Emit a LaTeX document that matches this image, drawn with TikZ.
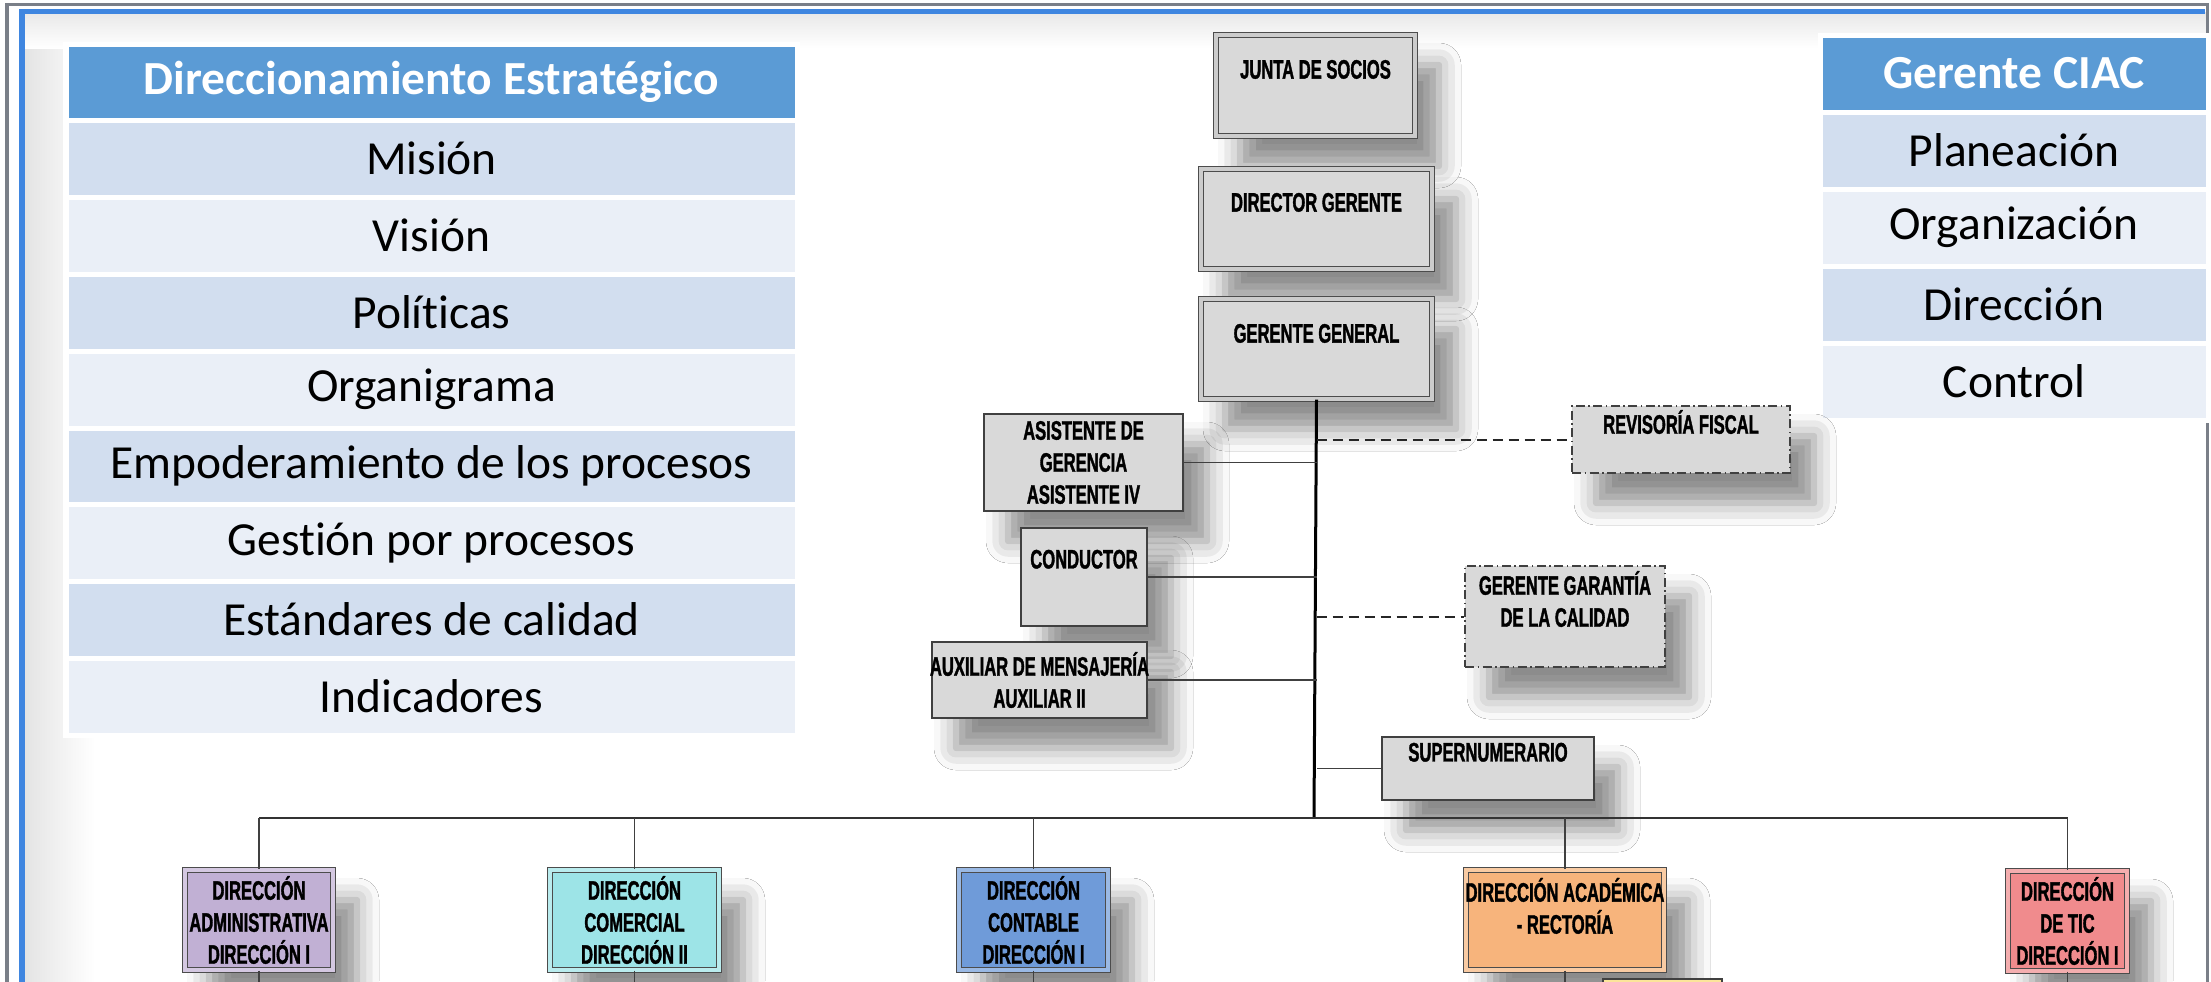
\documentclass[tikz,border=0pt]{standalone}
\usepackage{fontspec}
\setmainfont{Carlito}[Ligatures=NoCommon]
\newfontfamily\orgfont{Liberation Sans}[FakeStretch=0.62, BoldFeatures={FakeBold=1.3}]
\usetikzlibrary{fit,shadows.blur}
\definecolor{hdrblue}{HTML}{5B9BD5}
\definecolor{banddark}{HTML}{D2DEEF}
\definecolor{bandlight}{HTML}{EAEFF7}
\definecolor{boxgray}{HTML}{D9D9D9}
\definecolor{framegray}{HTML}{7A7F88}
\definecolor{frameblue}{HTML}{3F86E0}
\definecolor{cpurple}{HTML}{C1B0D4}
\definecolor{ccyan}{HTML}{9DE4E7}
\definecolor{cblue}{HTML}{6F9BD9}
\definecolor{corange}{HTML}{F7B47C}
\definecolor{cred}{HTML}{F08B8D}
\definecolor{cyellow}{HTML}{FCE59A}
\tikzset{
  orgbox/.style={draw=black!75, fill=boxgray, line width=0.015cm, inner sep=0pt,
    blur shadow={shadow xshift=0.24cm, shadow yshift=-0.3cm, shadow blur radius=0.22cm, shadow opacity=45}},
  topbox/.style={orgbox, draw=black!70, double=gray!40, double distance=0.035cm, line width=0.012cm},
  dashbox/.style={orgbox, dash pattern=on 0.09cm off 0.035cm on 0.015cm off 0.035cm, line width=0.02cm},
  deptbox/.style={orgbox, fill=#1, draw=black!70, double=#1!70!white, double distance=0.04cm, line width=0.012cm},
  orgtext/.style={font=\orgfont\bfseries\fontsize{7.6}{9.1}\selectfont, align=center, inner sep=0pt, text=black},
  tcell/.style={draw=white, line width=0.05cm, inner sep=0pt},
  thead/.style={tcell, fill=hdrblue},
  tdark/.style={tcell, fill=banddark},
  tlight/.style={tcell, fill=bandlight},
  ttext/.style={inner sep=0pt, font=\fontsize{13.5}{16}\selectfont, text=black},
  thtext/.style={inner sep=0pt, font=\bfseries\fontsize{13.5}{16}\selectfont, text=white},
  link/.style={draw=black!75, line width=0.015cm},
  dlink/.style={draw=black!85, line width=0.02cm, dash pattern=on 0.1cm off 0.06cm},
  mainlink/.style={draw=black, line width=0.03cm},
  buslink/.style={draw=black!80, line width=0.02cm}
}
\begin{document}
\begin{tikzpicture}[x=0.01cm, y=-0.01cm]
\path[use as bounding box] (0,0) rectangle (2211,981);
\clip (0,0) rectangle (2211,981);
\fill[white] (0,0) rectangle (2211,981);
% frame shading and border
\shade[left color=black!11, right color=white] (22,12) rectangle (95,981);
\shade[top color=black!9, bottom color=white] (22,12) rectangle (2207,48);
\draw[framegray, line width=0.03cm] (7,990) -- (7,4) -- (2207,4) -- (2207,990);
\draw[frameblue, line width=0.05cm] (22,990) -- (22,11) -- (2205,11);

% left table
\node[thead, fit={(66,44) (797,120)}] (lh) {};
\node[tdark,  fit={(66,120) (797,197)}] (l1) {};
\node[tlight, fit={(66,197) (797,274)}] (l2) {};
\node[tdark,  fit={(66,274) (797,351)}] (l3) {};
\node[tlight, fit={(66,351) (797,428)}] (l4) {};
\node[tdark,  fit={(66,428) (797,504)}] (l5) {};
\node[tlight, fit={(66,504) (797,581)}] (l6) {};
\node[tdark,  fit={(66,581) (797,658)}] (l7) {};
\node[tlight, fit={(66,658) (797,735)}] (l8) {};
\node[thtext] (lht) at (lh.center) {Direccionamiento Estratégico};
\node[ttext] (l1t) at (l1.center) {Misión};
\node[ttext] (l2t) at (l2.center) {Visión};
\node[ttext] (l3t) at (l3.center) {Políticas};
\node[ttext] (l4t) at (l4.center) {Organigrama};
\node[ttext] (l5t) at (l5.center) {Empoderamiento de los procesos};
\node[ttext] (l6t) at (l6.center) {Gestión por procesos};
\node[ttext] (l7t) at (l7.center) {Estándares de calidad};
\node[ttext] (l8t) at (l8.center) {Indicadores};

% right table
\node[thead, fit={(1820,35) (2208,112)}] (rh) {};
\node[tdark,  fit={(1820,112) (2208,189)}] (r1) {};
\node[tlight, fit={(1820,189) (2208,266)}] (r2) {};
\node[tdark,  fit={(1820,266) (2208,343)}] (r3) {};
\node[tlight, fit={(1820,343) (2208,420)}] (r4) {};
\node[thtext] (rht) at (rh.center) {Gerente CIAC};
\node[ttext] (r1t) at (r1.center) {Planeación};
\node[ttext] (r2t) at (r2.center) {Organización};
\node[ttext] (r3t) at (r3.center) {Dirección};
\node[ttext] (r4t) at (r4.center) {Control};

% top chain
\node[topbox, fit={(1216,35) (1415,136)}] (junta) {};
\node[orgtext] (juntat) at ([yshift=-0.35cm]junta.north) {JUNTA DE SOCIOS};
\node[topbox, fit={(1201,169) (1432,269)}] (dir) {};
\node[orgtext] (dirt) at ([yshift=-0.34cm]dir.north) {DIRECTOR GERENTE};
\node[topbox, fit={(1201,299) (1432,399)}] (gg) {};
\node[orgtext] (ggt) at ([yshift=-0.35cm]gg.north) {GERENTE GENERAL};

% staff boxes
\node[orgbox, fit={(984,414) (1183,511)}] (asis) {};
\node[orgtext] (asist) at (asis.center) {ASISTENTE DE\\GERENCIA\\ASISTENTE IV};
\node[orgbox, fit={(1021,528) (1147,626)}] (cond) {};
\node[orgtext] (condt) at ([yshift=-0.32cm]cond.north) {CONDUCTOR};
\node[orgbox, fit={(932,642) (1147,718)}] (aux) {};
\node[orgtext] (auxt) at (aux.center) {AUXILIAR DE MENSAJERÍA\\AUXILIAR II};
\node[dashbox, fit={(1572,406) (1790,473)}] (rev) {};
\node[orgtext] (revt) at ([yshift=-0.17cm]rev.north) {REVISORÍA FISCAL};
\node[dashbox, fit={(1465,566) (1665,667)}] (gar) {};
\node[orgtext] (gart) at ([yshift=-0.34cm]gar.north) {GERENTE GARANTÍA\\DE LA CALIDAD};
\node[orgbox, fit={(1382,737) (1594,800)}] (sup) {};
\node[orgtext] (supt) at ([yshift=-0.16cm]sup.north) {SUPERNUMERARIO};

% bottom departments
\node[deptbox=cpurple, fit={(185,870) (333,970)}] (d1) {};
\node[orgtext] (d1t) at (d1.center) {DIRECCIÓN\\ADMINISTRATIVA\\DIRECCIÓN I};
\node[deptbox=ccyan, fit={(550,870) (719,970)}] (d2) {};
\node[orgtext] (d2t) at (d2.center) {DIRECCIÓN\\COMERCIAL\\DIRECCIÓN II};
\node[deptbox=cblue, fit={(959,870) (1108,970)}] (d3) {};
\node[orgtext] (d3t) at (d3.center) {DIRECCIÓN\\CONTABLE\\DIRECCIÓN I};
\node[deptbox=corange, fit={(1466,870) (1664,970)}] (d4) {};
\node[orgtext] (d4t) at ([yshift=-0.365cm]d4.north) {DIRECCIÓN ACADÉMICA\\- RECTORÍA};
\node[deptbox=cred, fit={(2008,871) (2127,971)}] (d5) {};
\node[orgtext] (d5t) at (d5.center) {DIRECCIÓN\\DE TIC\\DIRECCIÓN I};
\node[orgbox, fill=cyellow, fit={(1603,979) (1722,1040)}] (d6) {};

% connectors
\coordinate (bus) at (1314,818);
\coordinate (floor) at (0,995);
\draw[mainlink] (gg.south) -- (bus);
\draw[link] (asis.east) -- (asis.east -| gg.south);
\draw[link] (cond.east) -- (cond.east -| gg.south);
\draw[link] (aux.east) -- (aux.east -| gg.south);
\draw[link] (sup.west) -- (sup.west -| gg.south);
\draw[dlink] (rev.west -| gg.south) -- (rev.west);
\draw[dlink] (gar.west -| gg.south) -- (gar.west);
\draw[buslink] (bus -| d1.north) -- (bus -| d5.north);
\foreach \d in {d1,d2,d3,d4,d5}{
  \draw[link] (bus -| \d.north) -- (\d.north);
  \draw[link] (\d.south) -- (\d.south |- floor);
}
\end{tikzpicture}
\end{document}
